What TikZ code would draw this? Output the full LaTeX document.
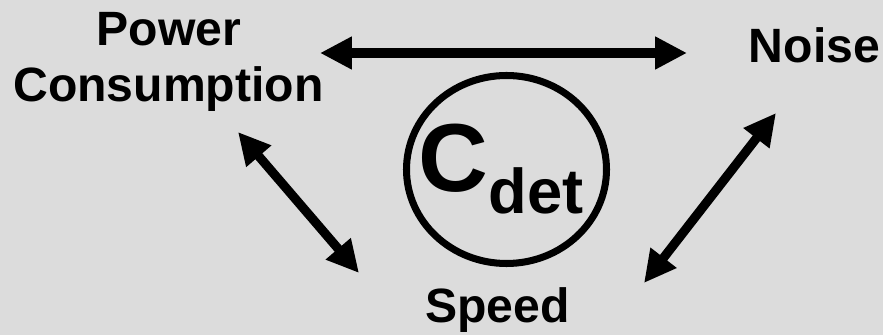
\documentclass[tikz,border=0pt]{standalone}
\usepackage{fontspec}
\setmainfont{Liberation Sans}
\usepackage{tikz}
\usetikzlibrary{arrows.meta,positioning,shapes.geometric}
\definecolor{BgGray}{HTML}{DCDCDC}
\definecolor{InkBlack}{HTML}{000000}

\begin{document}
\begin{tikzpicture}[
    lbl/.style={font=\bfseries\fontsize{13.7}{13.7}\selectfont, inner sep=0pt, anchor=base, InkBlack},
    trade/.style={{Triangle[length=9.1pt,width=8.8pt]}-{Triangle[length=9.1pt,width=8.8pt]}, line width=2.6pt, InkBlack}
  ]
  \fill[BgGray] (0,0) rectangle (8.83,3.35);
  \useasboundingbox (0,0) rectangle (8.83,3.35);
  \node[lbl] (power) at (1.69,2.89) {Power};
  \node[lbl] (consump) at (1.685,2.33) {Consumption};
  \node[lbl] (noise) at (8.145,2.72) {Noise};
  \node[lbl] (speed) at (4.975,0.12) {Speed};
  \node[draw, InkBlack, line width=2pt, ellipse, minimum width=2.0cm, minimum height=1.88cm, inner sep=0pt] (cdet) at (5.065,1.655) {};
  \node[InkBlack, inner sep=0pt, anchor=base west] (cdetlbl) at (4.18,1.43)
    {\bfseries\fontsize{27.5}{27.5}\selectfont C\raisebox{-6pt}{\fontsize{18}{18}\selectfont det}};
  \coordinate (pcE) at (3.20,2.82);
  \coordinate (nzW) at (6.87,2.82);
  \coordinate (pcS) at (2.38,2.03);
  \coordinate (spNW) at (3.59,0.62);
  \coordinate (nzS) at (7.76,2.22);
  \coordinate (spNE) at (6.44,0.52);
  \draw[trade] (pcE) -- (nzW);
  \draw[trade] (pcS) -- (spNW);
  \draw[trade] (nzS) -- (spNE);
\end{tikzpicture}
\end{document}
